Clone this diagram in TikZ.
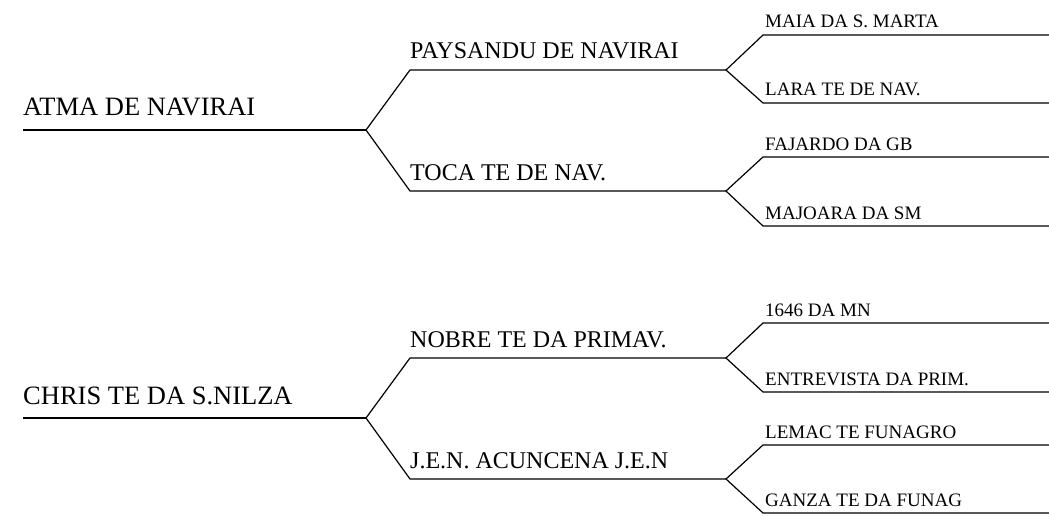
\documentclass[tikz,border=0pt]{standalone}
\usepackage{fontspec}
\setmainfont{Liberation Serif}
\begin{document}
\begin{tikzpicture}[x=1pt,y=-1pt,
  branch/.style={line width=1.2pt, line join=miter},
  txtA/.style={anchor=base west, inner sep=0pt, font=\fontsize{26.5}{30}\selectfont},
  txtB/.style={anchor=base west, inner sep=0pt, font=\fontsize{24}{28}\selectfont},
  txtC/.style={anchor=base west, inner sep=0pt, font=\fontsize{19}{22}\selectfont}]
\useasboundingbox (0,0) rectangle (1049,516);

% ---------- top group ----------
\coordinate (a0) at (23,130);
\coordinate (a1) at (366,130);
\coordinate (b1s) at (410,70);  \coordinate (b1e) at (726,70);
\coordinate (b2s) at (410,191); \coordinate (b2e) at (726,191);
\coordinate (c1s) at (763,35);  \coordinate (c1e) at (1049,35);
\coordinate (c2s) at (763,103); \coordinate (c2e) at (1049,103);
\coordinate (c3s) at (763,157); \coordinate (c3e) at (1049,157);
\coordinate (c4s) at (763,226); \coordinate (c4e) at (1049,226);

\draw[branch] (a0) -- (a1);
\draw[branch] (b1e) -- (b1s) -- (a1) -- (b2s) -- (b2e);
\draw[branch] (c1e) -- (c1s) -- (b1e) -- (c2s) -- (c2e);
\draw[branch] (c3e) -- (c3s) -- (b2e) -- (c4s) -- (c4e);

\node[txtA] (tA) at (23,116) {ATMA DE NAVIRAI};
\node[txtB] (tB1) at (410,59) {PAYSANDU DE NAVIRAI};
\node[txtB] (tB2) at (410,180) {TOCA TE DE NAV.};
\node[txtC] (tC1) at (765,28) {MAIA DA S. MARTA};
\node[txtC] (tC2) at (765,96) {LARA TE DE NAV.};
\node[txtC] (tC3) at (765,150) {FAJARDO DA GB};
\node[txtC] (tC4) at (765,219) {MAJOARA DA SM};

% ---------- bottom group ----------
\coordinate (d0) at (23,418);
\coordinate (d1) at (366,418);
\coordinate (e1s) at (410,358); \coordinate (e1e) at (726,358);
\coordinate (e2s) at (410,479); \coordinate (e2e) at (726,479);
\coordinate (f1s) at (763,323); \coordinate (f1e) at (1049,323);
\coordinate (f2s) at (763,392); \coordinate (f2e) at (1049,392);
\coordinate (f3s) at (763,445); \coordinate (f3e) at (1049,445);
\coordinate (f4s) at (763,513); \coordinate (f4e) at (1049,513);

\draw[branch] (d0) -- (d1);
\draw[branch] (e1e) -- (e1s) -- (d1) -- (e2s) -- (e2e);
\draw[branch] (f1e) -- (f1s) -- (e1e) -- (f2s) -- (f2e);
\draw[branch] (f3e) -- (f3s) -- (e2e) -- (f4s) -- (f4e);

\node[txtA] (tD) at (23,404) {CHRIS TE DA S.NILZA};
\node[txtB] (tE1) at (410,347) {NOBRE TE DA PRIMAV.};
\node[txtB] (tE2) at (410,468) {J.E.N. ACUNCENA J.E.N};
\node[txtC] (tF1) at (765,316) {1646 DA MN};
\node[txtC] (tF2) at (765,385) {ENTREVISTA DA PRIM.};
\node[txtC] (tF3) at (765,438) {LEMAC TE FUNAGRO};
\node[txtC] (tF4) at (765,506) {GANZA TE DA FUNAG};
\end{tikzpicture}
\end{document}
